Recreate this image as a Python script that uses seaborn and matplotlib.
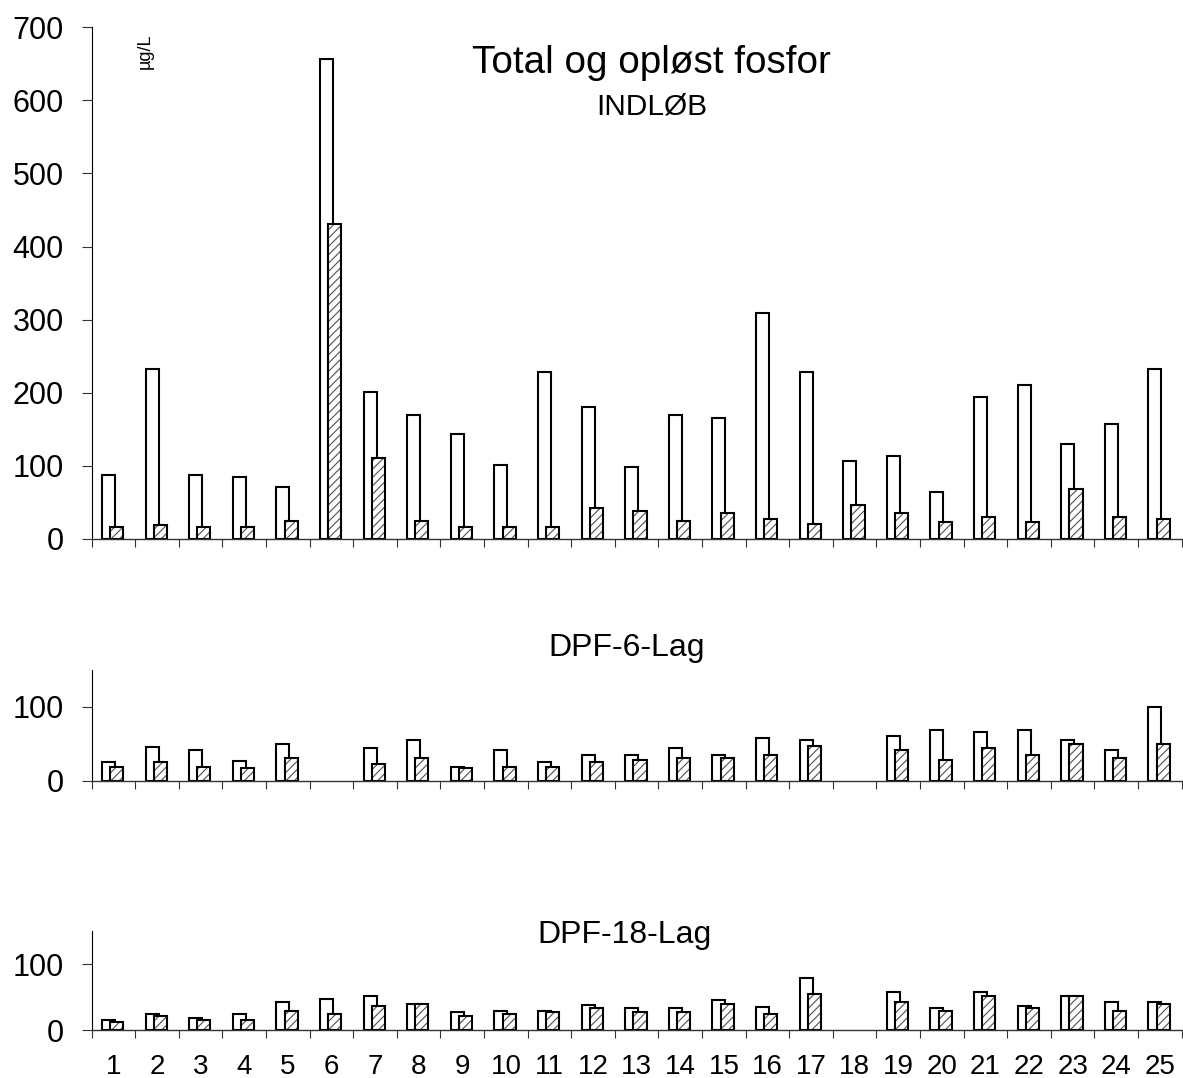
import matplotlib
matplotlib.use("Agg")
import matplotlib.pyplot as plt
import seaborn as sns
import numpy as np
import pandas as pd

nan = np.nan

days = list(range(1, 26))
day_labels = [str(d) for d in days]

# INDLØB (µg/L)
indlob_total = [87, 232, 87, 85, 71, 657, 201, 169, 144, 101, 229, 180, 98,
                169, 166, 309, 229, 106, 114, 64, 194, 210, 130, 157, 232]
indlob_oploest = [16, 19, 16, 16, 24, 431, 111, 24, 16, 16, 16, 43, 38,
                  24, 35, 27, 21, 46, 35, 23, 30, 23, 68, 30, 27]

# DPF-6-Lag
lag6_total = [25, 46, 41, 27, 49, nan, 44, 55, 19, 41, 25, 35, 35,
              44, 35, 57, 55, nan, 60, 68, 66, 68, 55, 41, 100]
lag6_oploest = [19, 25, 19, 17, 30, nan, 22, 30, 17, 19, 19, 25, 28,
                30, 30, 35, 47, nan, 41, 28, 44, 35, 49, 30, 49]

# DPF-18-Lag
lag18_total = [15, 24, 18, 24, 43, 48, 52, 40, 27, 30, 30, 39, 34,
               34, 46, 36, 79, nan, 58, 34, 58, 37, 52, 43, 43]
lag18_oploest = [12, 21, 15, 15, 30, 24, 37, 40, 21, 24, 27, 34, 27,
                 27, 40, 24, 55, nan, 43, 30, 52, 34, 52, 30, 40]

sns.set_style("ticks")
plt.rcParams["font.family"] = ["Liberation Sans", "DejaVu Sans"]
plt.rcParams["hatch.linewidth"] = 0.8
for key in ["text.color", "xtick.color", "ytick.color", "axes.labelcolor"]:
    plt.rcParams[key] = "black"


def draw_panel(ax, total, oploest, ymax, yticks, show_labels):
    df = pd.DataFrame({"dag": days, "total": total, "oploest": oploest})
    df["x_total"] = df["dag"] - 0.115
    df["x_oploest"] = df["dag"] + 0.075

    # total fosfor: white bars
    sns.barplot(data=df, x="x_total", y="total", native_scale=True, orient="x",
                width=0.3, color="white", saturation=1, edgecolor="black",
                linewidth=1.5, errorbar=None, ax=ax)
    # opløst fosfor: hatched bars, then black outline on top
    sns.barplot(data=df, x="x_oploest", y="oploest", native_scale=True, orient="x",
                width=0.3, color="white", saturation=1, edgecolor="#505050",
                linewidth=0, hatch="////", errorbar=None, ax=ax)
    sns.barplot(data=df, x="x_oploest", y="oploest", native_scale=True, orient="x",
                width=0.3, fill=False, color="black", linewidth=1.5,
                errorbar=None, ax=ax)

    ax.set_xlim(0.5, 25.5)
    ax.set_ylim(0, ymax)
    ax.set_yticks(yticks)
    ax.set_xticks(np.arange(0.5, 26, 1))
    ax.set_xticklabels([])
    ax.set_xticks(days, labels=day_labels if show_labels else [""] * len(days), minor=True)
    ax.tick_params(axis="x", which="major", direction="out", length=6, width=0.8,
                   color="#333333")
    ax.tick_params(axis="x", which="minor", length=0, pad=17, labelsize=20)
    ax.tick_params(axis="y", direction="out", length=7, width=0.8, pad=13,
                   labelsize=22, color="#333333")
    ax.set_xlabel("")
    ax.set_ylabel("")
    for side in ["top", "right"]:
        ax.spines[side].set_visible(False)
    ax.spines["left"].set_linewidth(0.8)
    ax.spines["left"].set_color("black")
    ax.spines["bottom"].set_linewidth(1.0)
    ax.spines["bottom"].set_color("#333333")


fig = plt.figure(figsize=(11.83, 10.78), dpi=100)
ax_top = fig.add_axes([0.0775, 0.5, 0.9214, 0.4748])
ax_mid = fig.add_axes([0.0775, 0.2758, 0.9214, 0.1030])
ax_bot = fig.add_axes([0.0775, 0.04425, 0.9214, 0.0918])

draw_panel(ax_top, indlob_total, indlob_oploest, 700, range(0, 701, 100), False)
draw_panel(ax_mid, lag6_total, lag6_oploest, 150, [0, 100], False)
draw_panel(ax_bot, lag18_total, lag18_oploest, 150, [0, 100], True)

fig.text(0.5503, 0.9326, "Total og opløst fosfor", ha="center", va="baseline", fontsize=27.8)
fig.text(0.5507, 0.8942, "INDLØB", ha="center", va="baseline", fontsize=21.5)
fig.text(0.1226, 0.9527, "µg/L", rotation=90, ha="center", va="center", fontsize=13)
fig.text(0.5296, 0.3915, "DPF-6-Lag", ha="center", va="baseline", fontsize=23)
fig.text(0.5275, 0.1252, "DPF-18-Lag", ha="center", va="baseline", fontsize=23)

fig.savefig("out.png", dpi=100)
plt.close()
